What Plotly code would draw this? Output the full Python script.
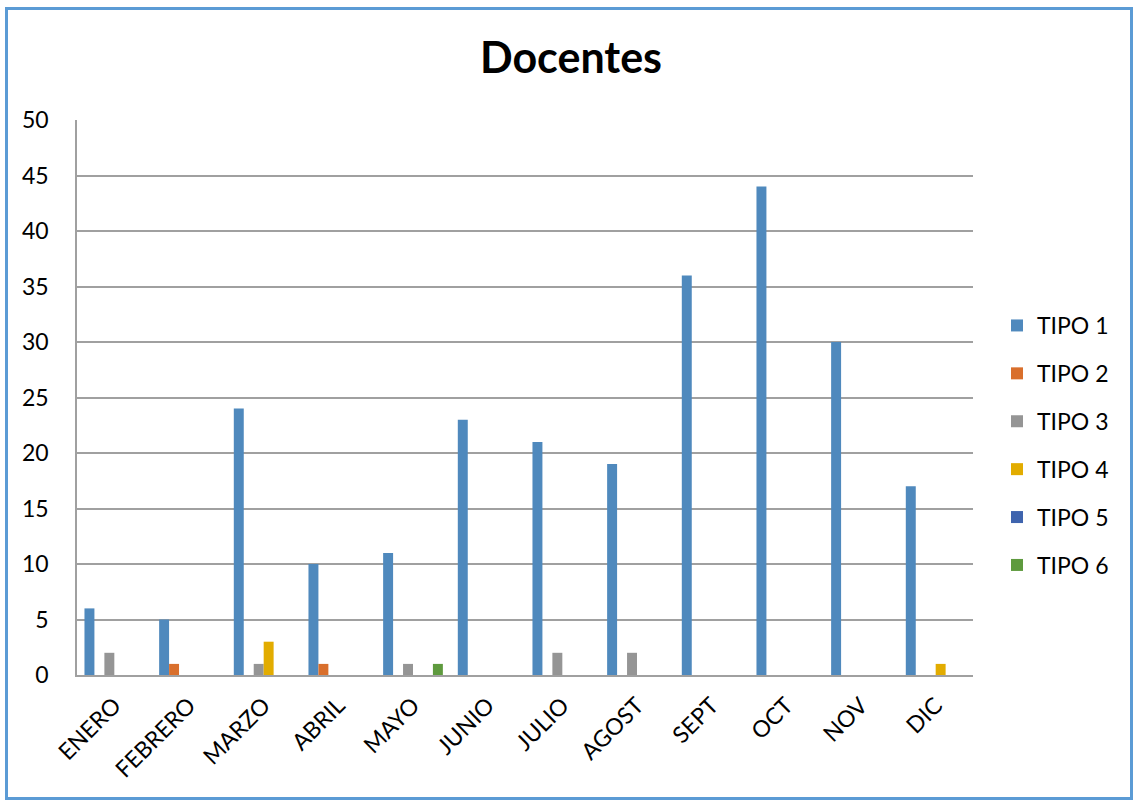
import plotly.graph_objects as go

months = ["ENERO", "FEBRERO", "MARZO", "ABRIL", "MAYO", "JUNIO", "JULIO",
          "AGOST", "SEPT", "OCT", "NOV", "DIC"]
tipo1 = [6, 5, 24, 10, 11, 23, 21, 19, 36, 44, 30, 17]
tipo2 = [0, 1, 0, 1, 0, 0, 0, 0, 0, 0, 0, 0]
tipo3 = [2, 0, 1, 0, 1, 0, 2, 2, 0, 0, 0, 0]
tipo4 = [0, 0, 3, 0, 0, 0, 0, 0, 0, 0, 0, 1]
tipo5 = [0, 0, 0, 0, 0, 0, 0, 0, 0, 0, 0, 0]
tipo6 = [0, 0, 0, 0, 1, 0, 0, 0, 0, 0, 0, 0]
series_names = ["TIPO 1", "TIPO 2", "TIPO 3", "TIPO 4", "TIPO 5", "TIPO 6"]
series_vals = [tipo1, tipo2, tipo3, tipo4, tipo5, tipo6]
colors = ["#4F89BD", "#D96F2C", "#959595", "#E2AC00", "#3F64AE", "#5E9A3E"]
y_ticks = [0, 5, 10, 15, 20, 25, 30, 35, 40, 45, 50]

FONT = "Lato, 'Open Sans', sans-serif"

fig = go.Figure()
for i, (name, vals) in enumerate(zip(series_names, series_vals)):
    fig.add_trace(go.Bar(
        x=months, y=vals, name=name,
        marker=dict(color=colors[i], line=dict(width=0)),
        legendgroup=name,
    ))

W, H = 1136, 801
ml, mr, mt, mb = 77, 163, 120, 126
pw = W - ml - mr
ph = H - mt - mb

def px_x(p):
    return (p - ml) / pw

def px_y(p):
    return (H - mb - p) / ph

fig.update_layout(
    width=W, height=H,
    margin=dict(l=ml, r=mr, t=mt, b=mb, autoexpand=False),
    paper_bgcolor="white", plot_bgcolor="white",
    barmode="group", bargap=0.2, bargroupgap=0,
    title=dict(text="<b>Docentes</b>", x=(571 / W), xanchor="center",
               y=1 - 58 / H, yanchor="middle",
               font=dict(family=FONT, size=43, color="black")),
    font=dict(family=FONT, size=23, color="black"),
    xaxis=dict(tickangle=-45, showgrid=False, showline=True,
               linecolor="#A0A0A0", linewidth=2, ticks="",
               ticklabelstandoff=6,
               tickfont=dict(size=23, color="black")),
    yaxis=dict(range=[0, 50], tickvals=y_ticks, showgrid=True,
               gridcolor="#A0A0A0", gridwidth=1.5, showline=True,
               linecolor="#A0A0A0", linewidth=1.5, ticks="",
               zeroline=False, ticklabelstandoff=22,
               tickfont=dict(size=23, color="black")),
    legend=dict(x=px_x(997), xanchor="left", y=px_y(304), yanchor="top",
                font=dict(size=23, color="black"), tracegroupgap=15,
                itemwidth=30, traceorder="grouped", bgcolor="rgba(0,0,0,0)"),
    shapes=[dict(type="rect", xref="paper", yref="paper",
                 x0=px_x(6.5), x1=px_x(1131.5), y0=px_y(798.5), y1=px_y(8.5),
                 line=dict(color="#5B9BD5", width=3), fillcolor="rgba(0,0,0,0)",
                 layer="below")],
)

fig.write_html("out.html", config={"displayModeBar": False},
               post_script="document.body.style.margin='0';")
